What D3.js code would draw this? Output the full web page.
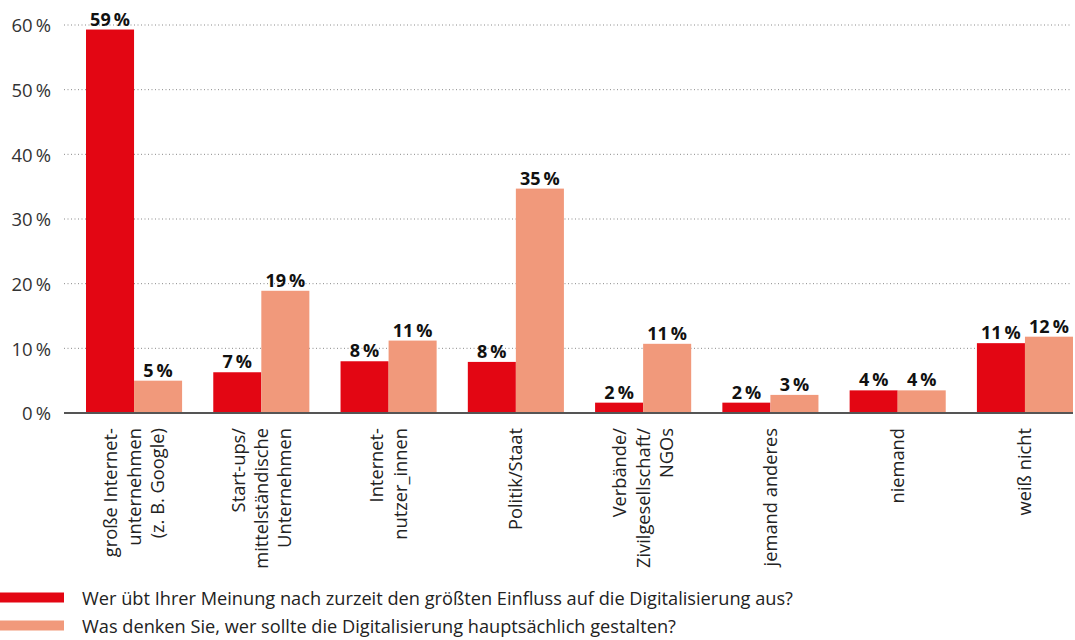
<!DOCTYPE html>
<html>
<head>
<meta charset="utf-8">
<script src="https://cdn.jsdelivr.net/npm/d3@7"></script>
<style>
  body { margin: 0; background: #fff; }
  svg { display: block; font-family: "Open Sans", Lato, sans-serif; }
</style>
</head>
<body>
<script>
// categories (each one split into its printed lines)
var categories = [
  ["große Internet-", "unternehmen", "(z. B. Google)"],
  ["Start-ups/", "mittelständische", "Unternehmen"],
  ["Internet-", "nutzer_innen"],
  ["Politik/Staat"],
  ["Verbände/", "Zivilgesellschaft/", "NGOs"],
  ["jemand anderes"],
  ["niemand"],
  ["weiß nicht"]
];
var seriesNames = [
  "Wer übt Ihrer Meinung nach zurzeit den größten Einfluss auf die Digitalisierung aus?",
  "Was denken Sie, wer sollte die Digitalisierung hauptsächlich gestalten?"
];
// bar heights as drawn in the picture
var influence = [59.3, 6.3, 8.0, 7.9, 1.6, 1.6, 3.5, 10.8];
var shaping = [5.0, 18.9, 11.2, 34.7, 10.7, 2.8, 3.5, 11.8];
// printed value labels
var influenceLabels = ["59", "7", "8", "8", "2", "2", "4", "11"];
var shapingLabels = ["5", "19", "11", "35", "11", "3", "4", "12"];
var yTicks = [0, 10, 20, 30, 40, 50, 60];

var colors = ["#e30613", "#f1997b"];
var width = 1075, height = 640;

var svg = d3.select("body").append("svg")
  .attr("width", width)
  .attr("height", height);

var names = categories.map(function(c) { return c.join(" "); });

//scales
var y = d3.scaleLinear().domain([0, 60]).range([413, 25]);
var x0 = d3.scaleBand().domain(names).range([86, 1073]).paddingInner(0.245).paddingOuter(0);
var x1 = d3.scaleBand().domain([0, 1]).range([0, x0.bandwidth()]);

//grid lines
svg.append("g").selectAll("line")
  .data(yTicks.filter(function(d) { return d > 0; }))
  .enter().append("line")
  .attr("x1", 64).attr("x2", 1072)
  .attr("y1", function(d) { return y(d); })
  .attr("y2", function(d) { return y(d); })
  .attr("stroke", "#8a8a8a")
  .attr("stroke-width", 1)
  .attr("stroke-dasharray", "1,2.5");

//y tick labels
svg.append("g").selectAll("text")
  .data(yTicks)
  .enter().append("text")
  .attr("x", 51)
  .attr("y", function(d) { return y(d); })
  .attr("dy", "0.4em")
  .attr("text-anchor", "end")
  .attr("font-size", 18.5)
  .attr("fill", "#333")
  .text(function(d) { return d + "\u2009%"; });

//bars
var series = [
  { values: influence, labels: influenceLabels },
  { values: shaping, labels: shapingLabels }
];
series.forEach(function(s, si) {
  var g = svg.append("g");
  g.selectAll("rect")
    .data(s.values)
    .enter().append("rect")
    .attr("x", function(d, i) { return x0(names[i]) + x1(si); })
    .attr("y", function(d) { return y(d); })
    .attr("width", x1.bandwidth())
    .attr("height", function(d) { return y(0) - y(d); })
    .attr("fill", colors[si]);
  g.selectAll("text")
    .data(s.values)
    .enter().append("text")
    .attr("x", function(d, i) { return x0(names[i]) + x1(si) + x1.bandwidth() / 2; })
    .attr("y", function(d) { return y(d) - 4; })
    .attr("text-anchor", "middle")
    .attr("font-size", 18)
    .attr("font-weight", "bold")
    .attr("fill", "#111")
    .text(function(d, i) { return s.labels[i] + "\u2009%"; });
});

//baseline
svg.append("line")
  .attr("x1", 64).attr("x2", 1073)
  .attr("y1", y(0)).attr("y2", y(0))
  .attr("stroke", "#555")
  .attr("stroke-width", 2);

//category labels, rotated
var lineGap = 23.3;
categories.forEach(function(lines, i) {
  var cx = x0(names[i]) + x0.bandwidth() / 2;
  var t = svg.append("text")
    .attr("transform", "translate(" + cx + ",428) rotate(-90)")
    .attr("text-anchor", "end")
    .attr("font-size", 18.3)
    .attr("fill", "#222");
  lines.forEach(function(line, li) {
    t.append("tspan")
      .attr("x", 0)
      .attr("y", (li - (lines.length - 1) / 2) * lineGap + 6.5)
      .text(line);
  });
});

//legend
var legend = svg.append("g");
seriesNames.forEach(function(name, i) {
  legend.append("rect")
    .attr("x", 0).attr("y", 592.5 + i * 28)
    .attr("width", 64).attr("height", 10)
    .attr("fill", colors[i]);
  legend.append("text")
    .attr("x", 82).attr("y", 605 + i * 28)
    .attr("font-size", 18.2)
    .attr("fill", "#222")
    .text(name);
});
</script>
</body>
</html>
